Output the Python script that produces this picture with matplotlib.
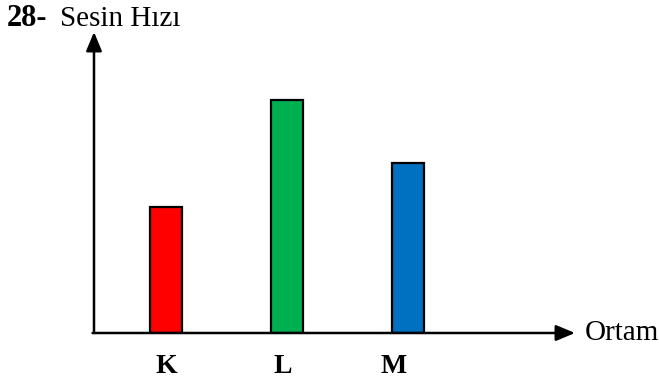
import numpy as np
import matplotlib.pyplot as plt

# Data (relative speed of sound in each medium)
media = ["K", "L", "M"]
speeds = [3.8, 7.0, 5.1]
colors = ["#FF0000", "#00B050", "#0070C0"]

plt.rcParams["font.family"] = ["Liberation Serif", "DejaVu Serif"]

fig = plt.figure(figsize=(6.59, 3.83), dpi=100)
W, H = 659, 383
# axes spans from the y-axis line to the x-axis arrow tip
ax = fig.add_axes([94 / W, (H - 333) / H, (575 - 94) / W, (333 - 32) / H])

x = np.arange(len(media))
ax.bar(x, speeds, width=0.265, color=colors, edgecolor="black", linewidth=1.6, zorder=2)
ax.set_xlim(-0.595, 3.38)
ax.set_ylim(0, 9.05)

for s in ax.spines.values():
    s.set_visible(False)
ax.set_xticks([])
ax.set_yticks([])

# axis arrows
arrow = dict(arrowstyle="-|>,head_length=1.15,head_width=0.48", color="black", lw=1.8,
             shrinkA=0, shrinkB=0)
ax.annotate("", xy=(1, 0), xytext=(-0.003, 0), xycoords="axes fraction", arrowprops=arrow)
ax.annotate("", xy=(0, 1), xytext=(0, 0), xycoords="axes fraction", arrowprops=arrow)

# category labels under the axis (slightly left of the bars, as in the original)
label_shift = [0.0, -0.035, -0.12]
for xi, name, dx in zip(x, media, label_shift):
    ax.text(xi + dx, -0.11, name, transform=ax.get_xaxis_transform(), ha="center", va="center",
            fontsize=20, fontweight="bold")

ax.text(1.021, 0, "Ortam", transform=ax.transAxes, ha="left", va="center", fontsize=21)

fig.text(7 / W, 1 - 19 / H, "28-", ha="left", va="center", fontsize=22, fontweight="bold")
fig.text(60 / W, 1 - 19 / H, "Sesin Hızı", ha="left", va="center", fontsize=21)

fig.savefig("out.png", dpi=100)
